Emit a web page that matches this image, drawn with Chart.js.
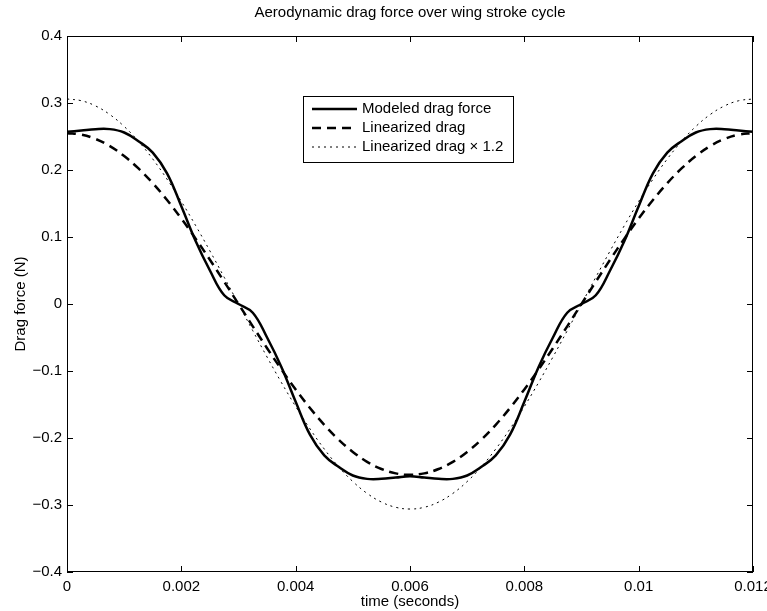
<!DOCTYPE html>
<html>
<head>
<meta charset="utf-8">
<script src="https://cdn.jsdelivr.net/npm/chart.js@4/dist/chart.umd.min.js"></script>
<style>
  html, body { margin: 0; padding: 0; background: #fff; }
  #wrap { position: relative; width: 767px; height: 611px; }
</style>
</head>
<body>
<div id="wrap"><canvas id="dragChart" width="767" height="611"></canvas></div>
<script>
// === Data ===
const times = [
  0, 0.00025, 0.0005, 0.00075, 0.001, 0.00125, 0.0015, 0.00175, 0.002, 0.00225, 0.0025, 0.00275,
  0.003, 0.00325, 0.0035, 0.00375, 0.004, 0.00425, 0.0045, 0.00475, 0.005, 0.00525, 0.0055, 0.00575,
  0.006, 0.00625, 0.0065, 0.00675, 0.007, 0.00725, 0.0075, 0.00775, 0.008, 0.00825, 0.0085, 0.00875,
  0.009, 0.00925, 0.0095, 0.00975, 0.01, 0.01025, 0.0105, 0.01075, 0.011, 0.01125, 0.0115, 0.01175, 0.012
];
const modeledDrag = [
  0.257, 0.259, 0.261, 0.261, 0.256, 0.243, 0.226, 0.195, 0.146, 0.094, 0.050, 0.013,
  0, -0.013, -0.050, -0.094, -0.146, -0.195, -0.226, -0.243, -0.256, -0.261, -0.261, -0.259,
  -0.257, -0.259, -0.261, -0.261, -0.256, -0.243, -0.226, -0.195, -0.146, -0.094, -0.050, -0.013,
  0, 0.013, 0.050, 0.094, 0.146, 0.195, 0.226, 0.243, 0.256, 0.261, 0.261, 0.259, 0.257
];
const linearDrag = [
  0.255, 0.2528, 0.2463, 0.2356, 0.2208, 0.2023, 0.1803, 0.1552, 0.1275, 0.0976, 0.0660, 0.0333,
  0, -0.0333, -0.0660, -0.0976, -0.1275, -0.1552, -0.1803, -0.2023, -0.2208, -0.2356, -0.2463, -0.2528,
  -0.255, -0.2528, -0.2463, -0.2356, -0.2208, -0.2023, -0.1803, -0.1552, -0.1275, -0.0976, -0.0660, -0.0333,
  0, 0.0333, 0.0660, 0.0976, 0.1275, 0.1552, 0.1803, 0.2023, 0.2208, 0.2356, 0.2463, 0.2528, 0.255
];
const linearDragScaled = [
  0.306, 0.3034, 0.2956, 0.2827, 0.2650, 0.2428, 0.2164, 0.1863, 0.1530, 0.1171, 0.0792, 0.0399,
  0, -0.0399, -0.0792, -0.1171, -0.1530, -0.1863, -0.2164, -0.2428, -0.2650, -0.2827, -0.2956, -0.3034,
  -0.306, -0.3034, -0.2956, -0.2827, -0.2650, -0.2428, -0.2164, -0.1863, -0.1530, -0.1171, -0.0792, -0.0399,
  0, 0.0399, 0.0792, 0.1171, 0.1530, 0.1863, 0.2164, 0.2428, 0.2650, 0.2827, 0.2956, 0.3034, 0.306
];
const xTicks = [0, 0.002, 0.004, 0.006, 0.008, 0.01, 0.012];
const yTicks = [-0.4, -0.3, -0.2, -0.1, 0, 0.1, 0.2, 0.3, 0.4];
const seriesNames = ["Modeled drag force", "Linearized drag", "Linearized drag \u00d7 1.2"];
const chartTitle = "Aerodynamic drag force over wing stroke cycle";

const FONT = "'Liberation Sans', Arial, Helvetica, sans-serif";
const FSIZE = 15;
const toPoints = vals => vals.map((v, i) => ({ x: times[i], y: v }));
const fmt = v => {
  const r = Math.round(v * 10000) / 10000;
  if (r === 0) return "0";
  return (r < 0 ? "\u2212" : "") + String(Math.abs(r));
};

// === Box, inward ticks, title and legend (MATLAB look) ===
const matlabFrame = {
  id: "matlabFrame",
  afterDatasetsDraw(chart) {
    const { ctx, chartArea: a, scales } = chart;
    const tl = 6;
    ctx.save();
    ctx.strokeStyle = "#000";
    ctx.lineWidth = 1;
    ctx.beginPath();
    xTicks.forEach(t => {
      const px = Math.round(scales.x.getPixelForValue(t)) + 0.5;
      ctx.moveTo(px, a.bottom); ctx.lineTo(px, a.bottom - tl);
      ctx.moveTo(px, a.top); ctx.lineTo(px, a.top + tl);
    });
    yTicks.forEach(t => {
      const py = Math.round(scales.y.getPixelForValue(t)) + 0.5;
      ctx.moveTo(a.left, py); ctx.lineTo(a.left + tl, py);
      ctx.moveTo(a.right, py); ctx.lineTo(a.right - tl, py);
    });
    ctx.stroke();
    ctx.strokeRect(a.left + 0.5, a.top + 0.5, a.right - a.left - 1, a.bottom - a.top - 1);

    // title
    ctx.fillStyle = "#000";
    ctx.font = FSIZE + "px " + FONT;
    ctx.textAlign = "center";
    ctx.textBaseline = "middle";
    ctx.fillText(chartTitle, (a.left + a.right) / 2, 13);

    // legend
    const lx = 303, ly = 96, lw = 210, lh = 66;
    ctx.fillStyle = "#fff";
    ctx.fillRect(lx, ly, lw, lh);
    ctx.strokeRect(lx + 0.5, ly + 0.5, lw, lh);
    const styles = chart.data.datasets.map(d => ({ w: d.borderWidth, dash: d.borderDash || [] }));
    seriesNames.forEach((name, i) => {
      const y = ly + 13 + i * 19;
      ctx.beginPath();
      ctx.lineWidth = styles[i].w;
      ctx.setLineDash(styles[i].dash);
      ctx.moveTo(312, y); ctx.lineTo(357, y);
      ctx.stroke();
      ctx.setLineDash([]);
      ctx.fillStyle = "#000";
      ctx.textAlign = "left";
      ctx.fillText(name, 362, y);
    });
    ctx.restore();
  }
};

new Chart(document.getElementById("dragChart"), {
  type: "line",
  data: {
    datasets: [
      { label: seriesNames[0], data: toPoints(modeledDrag), borderColor: "#000", borderWidth: 2.5,
        pointRadius: 0, tension: 0.4 },
      { label: seriesNames[1], data: toPoints(linearDrag), borderColor: "#000", borderWidth: 2.5,
        borderDash: [9, 6], pointRadius: 0, tension: 0.4 },
      { label: seriesNames[2], data: toPoints(linearDragScaled), borderColor: "#000", borderWidth: 1,
        borderDash: [2, 4], pointRadius: 0, tension: 0.4 }
    ]
  },
  options: {
    responsive: false,
    animation: false,
    layout: { padding: { top: 36, right: 14, left: 0, bottom: 0 } },
    plugins: { legend: { display: false }, tooltip: { enabled: false }, title: { display: false } },
    scales: {
      x: {
        type: "linear", min: 0, max: 0.012,
        afterBuildTicks: s => { s.ticks = xTicks.map(v => ({ value: v })); },
        afterFit: s => { s.height = 39; s.paddingLeft = 0; s.paddingRight = 0; },
        grid: { display: false, drawTicks: false },
        border: { display: false },
        ticks: { color: "#000", font: { family: FONT, size: FSIZE }, padding: 6, maxRotation: 0, callback: v => fmt(v) },
        title: { display: true, text: "time (seconds)", color: "#000", font: { family: FONT, size: FSIZE },
                 padding: { top: 0, bottom: 0 } }
      },
      y: {
        type: "linear", min: -0.4, max: 0.4,
        afterBuildTicks: s => { s.ticks = yTicks.map(v => ({ value: v })); },
        afterFit: s => { s.width = 67; s.paddingTop = 0; s.paddingBottom = 0; },
        grid: { display: false, drawTicks: false },
        border: { display: false },
        ticks: { color: "#000", font: { family: FONT, size: FSIZE }, padding: 5, callback: v => fmt(v) },
        title: { display: true, text: "Drag force (N)", color: "#000", font: { family: FONT, size: FSIZE },
                 padding: { top: 12, bottom: 0 } }
      }
    }
  },
  plugins: [matlabFrame]
});
</script>
</body>
</html>
